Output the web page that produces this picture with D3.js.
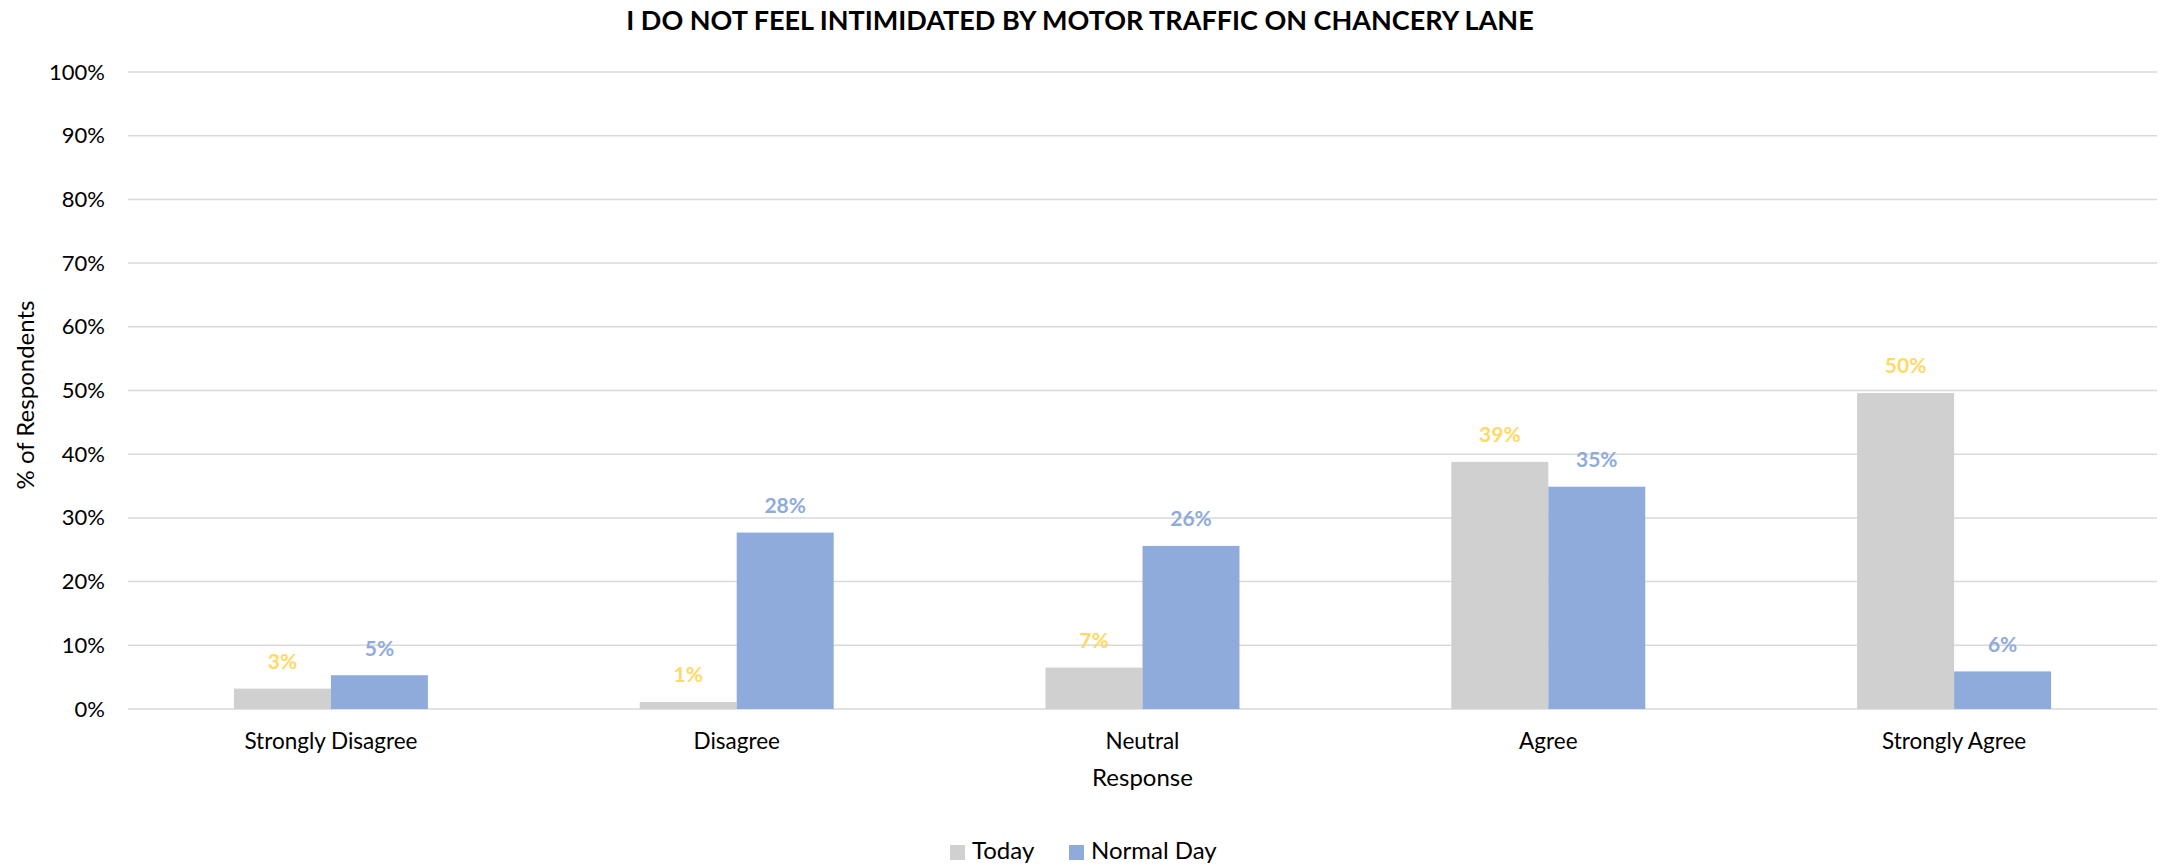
<!DOCTYPE html>
<html><head><meta charset="utf-8">
<script src="https://cdn.jsdelivr.net/npm/d3@7"></script>
<style>body{margin:0;background:#fff}svg{display:block}text{font-family:Lato,"Noto Sans",sans-serif}</style>
</head><body>
<svg id="chart" width="2168" height="867"></svg>
<script>
const categories = ["Strongly Disagree","Disagree","Neutral","Agree","Strongly Agree"];
const seriesNames = ["Today","Normal Day"];
const today = [3.2, 1.1, 6.5, 38.8, 49.6];
const normalDay = [5.3, 27.7, 25.6, 34.9, 5.9];
const todayLabels = ["3%","1%","7%","39%","50%"];
const normalLabels = ["5%","28%","26%","35%","6%"];
const yTicks = [0,10,20,30,40,50,60,70,80,90,100];
const title = "I DO NOT FEEL INTIMIDATED BY MOTOR TRAFFIC ON CHANCERY LANE";

(function(){
const barColors = {"Today":"#D0D0D0","Normal Day":"#8FABDC"};
const labelColors = {"Today":"#FFD966","Normal Day":"#8FABDC"};

const svg = d3.select("#chart");
const pL = 128, pR = 2157, pT = 72, pB = 709;

const y = d3.scaleLinear().domain([0,100]).range([pB, pT]);
const x0 = d3.scaleBand().domain(categories).range([pL, pR]).paddingInner(0.522).paddingOuter(0.261);
const x1 = d3.scaleBand().domain(seriesNames).range([0, x0.bandwidth()]);

svg.append("g").selectAll("line").data(yTicks).join("line")
  .attr("x1", pL).attr("x2", pR)
  .attr("y1", d => y(d)).attr("y2", d => y(d))
  .attr("stroke", "#D9D9D9").attr("stroke-width", 1.5);

const yAxis = d3.axisLeft(y).tickValues(yTicks).tickFormat(d => d + "%").tickSize(0).tickPadding(0);
const gy = svg.append("g").attr("transform", `translate(105,0)`).call(yAxis);
gy.select(".domain").remove();
gy.selectAll("text").attr("font-size", 22).attr("fill", "#000").style("font-family","Lato,'Noto Sans',sans-serif");

const xAxis = d3.axisBottom(x0).tickSize(0).tickPadding(0);
const gx = svg.append("g").attr("transform", `translate(0,${pB})`).call(xAxis);
gx.select(".domain").remove();
gx.selectAll("text").attr("font-size", 22.5).attr("fill", "#000").attr("dy", null).attr("y", 34)
  .attr("dominant-baseline","middle").style("font-family","Lato,'Noto Sans',sans-serif");

const rows = categories.map((c,i) => ({cat:c, vals:[
  {s:"Today", v:today[i], lab:todayLabels[i]},
  {s:"Normal Day", v:normalDay[i], lab:normalLabels[i]}]}));

const groups = svg.append("g").selectAll("g").data(rows).join("g")
  .attr("transform", d => `translate(${x0(d.cat)},0)`);
groups.selectAll("rect").data(d => d.vals).join("rect")
  .attr("x", d => x1(d.s)).attr("width", x1.bandwidth())
  .attr("y", d => y(d.v)).attr("height", d => y(0) - y(d.v))
  .attr("fill", d => barColors[d.s]);
groups.selectAll("text").data(d => d.vals).join("text")
  .attr("x", d => x1(d.s) + x1.bandwidth()/2)
  .attr("y", d => y(d.v) - 25)
  .attr("text-anchor","middle").attr("dominant-baseline","middle")
  .attr("font-size", 21).attr("font-weight", "bold")
  .attr("fill", d => labelColors[d.s]).text(d => d.lab);

svg.append("text").attr("x", 1080).attr("y", 23).attr("text-anchor","middle").attr("dominant-baseline","middle")
  .attr("font-size", 27).attr("font-weight","bold").attr("fill","#000").text(title);

svg.append("text").attr("x", (pL+pR)/2).attr("y", 780).attr("text-anchor","middle").attr("dominant-baseline","middle")
  .attr("font-size", 24).attr("fill","#000").text("Response");
svg.append("text").attr("transform","translate(28,395) rotate(-90)").attr("text-anchor","middle").attr("dominant-baseline","middle")
  .attr("font-size", 24).attr("fill","#000").text("% of Respondents");

const legend = svg.append("g");
const legX = [950, 1069];
seriesNames.forEach((s,i) => {
  legend.append("rect").attr("x", legX[i]).attr("y", 845).attr("width", 15).attr("height", 15).attr("fill", barColors[s]);
  legend.append("text").attr("x", legX[i] + 22).attr("y", 853).attr("dominant-baseline","middle")
    .attr("font-size", 24).attr("fill","#000").text(s);
});
})();
</script>
</body></html>
